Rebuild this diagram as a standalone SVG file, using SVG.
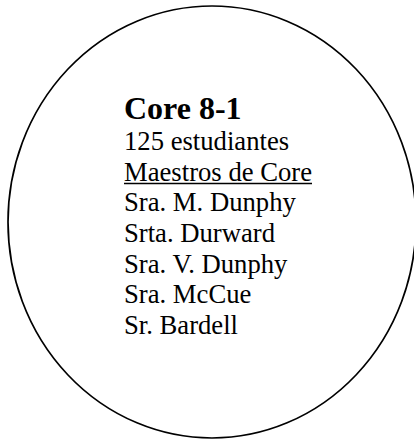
<svg xmlns="http://www.w3.org/2000/svg" width="414" height="440" viewBox="0 0 414 440">
<style>
.t{font-family:"Liberation Serif","Times New Roman",serif;font-size:26.67px;fill:#000}
.b{font-family:"Liberation Serif","Times New Roman",serif;font-size:32px;font-weight:bold;fill:#000}
</style>
<rect width="414" height="440" fill="#fff"/>
<g id="core-8-1">
<ellipse cx="212" cy="222" rx="204" ry="216" fill="#fff" stroke="#000" stroke-width="1.7"/>
<text class="b" x="124" y="119">Core 8-1</text>
<text class="t" x="124" y="150">125 estudiantes</text>
<text class="t" x="124" y="180.5">Maestros de Core</text>
<line x1="124" y1="183.5" x2="312" y2="183.5" stroke="#000" stroke-width="1.4"/>
<text class="t" x="124" y="211.2">Sra. M. Dunphy</text>
<text class="t" x="124" y="241.8">Srta. Durward</text>
<text class="t" x="124" y="272.5">Sra. V. Dunphy</text>
<text class="t" x="124" y="303.2">Sra. McCue</text>
<text class="t" x="124" y="333.8">Sr. Bardell</text>
</g>
<g id="connectors"/>
</svg>
